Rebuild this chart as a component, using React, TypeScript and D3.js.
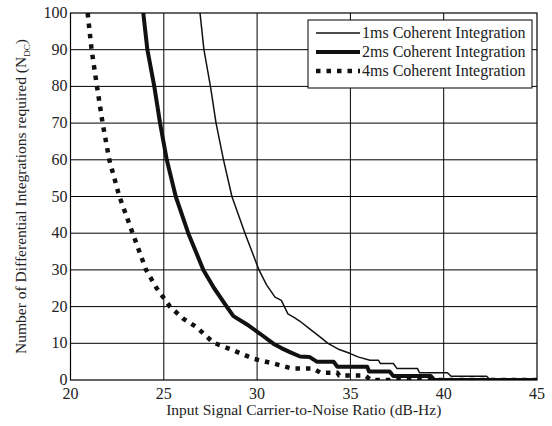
import React from "react";
import * as d3 from "d3";

const xTicks = [20, 25, 30, 35, 40, 45];
const yTicks = [0, 10, 20, 30, 40, 50, 60, 70, 80, 90, 100];

const cn1ms: [number, number][] = [
  [26.94, 100], [27.15, 90], [27.5, 80], [27.8, 70], [28.2, 60], [28.65, 50],
  [29.35, 40], [29.8, 34], [30.1, 30], [30.5, 26], [30.96, 22.6], [31.3, 21.7],
  [31.65, 18], [32.0, 17], [32.3, 16], [32.85, 13.8], [33.3, 12], [33.8, 10],
  [34.4, 8.3], [35.0, 7.2], [35.4, 6.3], [36.05, 5.4], [36.5, 5.4], [36.6, 4.5],
  [37.3, 4.5], [37.5, 3.1], [38.6, 3.1], [38.7, 2.0], [40.2, 2.0], [40.4, 1.0],
  [42.3, 1.0], [42.5, 0], [45, 0],
];

const cn2ms: [number, number][] = [
  [23.9, 100], [24.12, 90], [24.49, 80], [24.8, 70], [25.16, 60], [25.64, 50],
  [26.31, 40], [27.12, 30], [27.7, 25], [28.37, 20], [28.73, 17.4], [29.44, 15.2],
  [30.16, 12.6], [30.87, 9.9], [31.3, 8.7], [31.76, 7.6], [32.3, 6.4], [32.8, 6.3],
  [33.2, 5.0], [34.1, 5.0], [34.3, 3.6], [35.9, 3.6], [36.0, 2.3], [37.1, 2.3],
  [37.3, 1.1], [39.3, 1.1], [39.5, 0], [45, 0],
];

const cn4ms: [number, number][] = [
  [20.92, 100], [21.13, 90], [21.42, 80], [21.72, 70], [22.08, 60], [22.62, 50],
  [23.33, 40], [24.05, 30], [24.62, 25], [25.33, 20], [26.04, 16.7], [26.76, 14.4],
  [27.65, 10.2], [28.72, 8.1], [29.8, 5.8], [30.87, 4.5], [31.9, 3.1], [33.0, 3.1],
  [33.4, 2.0], [34.3, 2.0], [34.4, 1.2], [35.8, 1.2], [36.1, 0], [45, 0],
];

const seriesNames = [
  "1ms Coherent Integration",
  "2ms Coherent Integration",
  "4ms Coherent Integration",
];

const W = 552;
const H = 426;
const left = 70.5;
const right = 537;
const top = 13;
const bottom = 380;
const font = "'Liberation Serif', 'Times New Roman', serif";

export default function App() {
  const x = d3.scaleLinear().domain([20, 45]).range([left, right]);
  const y = d3.scaleLinear().domain([0, 100]).range([bottom, top]);
  const line = d3
    .line<[number, number]>()
    .x((d) => x(d[0]))
    .y((d) => y(d[1]));

  const styles = [
    { w: 1.5, dash: undefined as string | undefined },
    { w: 4, dash: undefined as string | undefined },
    { w: 4.5, dash: "4.5 6" },
  ];
  const data = [cn1ms, cn2ms, cn4ms];

  const legX = 308, legY = 20, legW = 224, legH = 68;
  const rowY = [33, 52, 71];

  return (
    <svg
      width={W}
      height={H}
      style={{ position: "absolute", left: 0, top: 0, background: "#fff" }}
      fontFamily={font}
    >
      <defs>
        <clipPath id="plotclip">
          <rect x={left} y={top} width={right - left} height={bottom - top} />
        </clipPath>
      </defs>
      <rect x={0} y={0} width={W} height={H} fill="#fff" />
      {xTicks.slice(1, -1).map((t) => (
        <line key={"gx" + t} x1={x(t)} x2={x(t)} y1={top} y2={bottom} stroke="#000" strokeWidth={1} />
      ))}
      {yTicks.slice(1, -1).map((t) => (
        <line key={"gy" + t} x1={left} x2={right} y1={y(t)} y2={y(t)} stroke="#000" strokeWidth={1} />
      ))}
      <g clipPath="url(#plotclip)">
        {data.map((d, i) => (
          <path
            key={i}
            d={line(d) || ""}
            fill="none"
            stroke="#111"
            strokeWidth={styles[i].w}
            strokeDasharray={styles[i].dash}
            strokeLinejoin="round"
          />
        ))}
      </g>
      <rect x={left} y={top} width={right - left} height={bottom - top} fill="none" stroke="#000" strokeWidth={1.2} />
      {yTicks.map((t) => (
        <text key={"yl" + t} x={left - 3} y={y(t) + 5} textAnchor="end" fontSize={16} fill="#222">
          {t}
        </text>
      ))}
      {xTicks.map((t) => (
        <text key={"xl" + t} x={x(t)} y={399} textAnchor="middle" fontSize={16} fill="#222">
          {t}
        </text>
      ))}
      <text x={(left + right) / 2} y={415} textAnchor="middle" fontSize={15.5} fill="#222">
        Input Signal Carrier-to-Noise Ratio (dB-Hz)
      </text>
      <text
        transform={`translate(26,${(top + bottom) / 2}) rotate(-90)`}
        textAnchor="middle"
        fontSize={15.5}
        fill="#222"
      >
        Number of Differential Integrations required (N
        <tspan fontSize={9} dy={4}>DC</tspan>
        <tspan dy={-4}>)</tspan>
      </text>
      <rect x={legX} y={legY} width={legW} height={legH} fill="#fff" stroke="#000" strokeWidth={1} />
      {seriesNames.map((n, i) => (
        <g key={n}>
          <line
            x1={316}
            x2={360}
            y1={rowY[i]}
            y2={rowY[i]}
            stroke="#111"
            strokeWidth={styles[i].w}
            strokeDasharray={styles[i].dash}
          />
          <text x={362} y={rowY[i] + 5} fontSize={16} fill="#222">
            {n}
          </text>
        </g>
      ))}
    </svg>
  );
}
